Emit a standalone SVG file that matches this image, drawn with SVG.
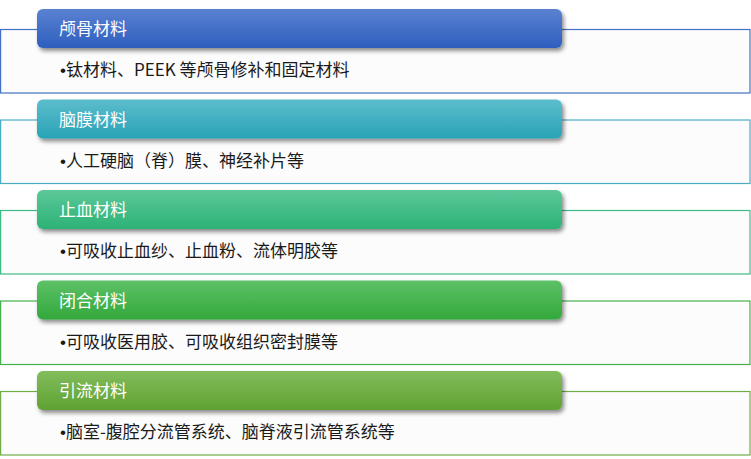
<svg xmlns="http://www.w3.org/2000/svg" width="751" height="459" viewBox="0 0 751 459">
<defs>
<linearGradient id="g1" x1="0" y1="0" x2="0" y2="1"><stop offset="0" stop-color="#5b81d1"/><stop offset="1" stop-color="#2d5fbf"/></linearGradient>
<linearGradient id="g2" x1="0" y1="0" x2="0" y2="1"><stop offset="0" stop-color="#5cbdcc"/><stop offset="1" stop-color="#29a3b7"/></linearGradient>
<linearGradient id="g3" x1="0" y1="0" x2="0" y2="1"><stop offset="0" stop-color="#5cc89a"/><stop offset="1" stop-color="#2cb276"/></linearGradient>
<linearGradient id="g4" x1="0" y1="0" x2="0" y2="1"><stop offset="0" stop-color="#5dc167"/><stop offset="1" stop-color="#33a83c"/></linearGradient>
<linearGradient id="g5" x1="0" y1="0" x2="0" y2="1"><stop offset="0" stop-color="#82bd5c"/><stop offset="1" stop-color="#5fa132"/></linearGradient>
<filter id="sh" x="-5%" y="-30%" width="110%" height="170%">
<feDropShadow dx="2" dy="3" stdDeviation="2" flood-color="#000" flood-opacity="0.45"/>
</filter>
</defs>
<style>
.box{fill:#fcfcfc;stroke-width:1.2}
.hdr{filter:url(#sh)}
.ht{font-family:"Noto Sans CJK SC","Liberation Sans",sans-serif;font-size:17px;fill:#ffffff}
.bt{font-family:"Noto Sans CJK SC","Liberation Sans",sans-serif;font-size:17px;fill:#1a1a1a}
.bl{font-family:"Liberation Sans",sans-serif}
</style>
<rect width="751" height="459" fill="#ffffff"/>
<g id="row1">
<rect class="box" x="0.6" y="29.5" width="749.4" height="63.5" stroke="#4472c4"/>
<rect class="hdr" x="37" y="9" width="525" height="39" rx="6" fill="url(#g1)"/>
<text class="ht" x="59" y="35">颅骨材料</text>
<text class="bt" x="60" y="76"><tspan class="bl">•</tspan>钛材料、PEEK 等颅骨修补和固定材料</text>
</g>
<g id="row2">
<rect class="box" x="0.6" y="120" width="749.4" height="63.5" stroke="#4bacc6"/>
<rect class="hdr" x="37" y="99.5" width="525" height="39" rx="6" fill="url(#g2)"/>
<text class="ht" x="59" y="125.5">脑膜材料</text>
<text class="bt" x="60" y="166.5"><tspan class="bl">•</tspan>人工硬脑（脊）膜、神经补片等</text>
</g>
<g id="row3">
<rect class="box" x="0.6" y="210.5" width="749.4" height="63.5" stroke="#3dbb85"/>
<rect class="hdr" x="37" y="190" width="525" height="39" rx="6" fill="url(#g3)"/>
<text class="ht" x="59" y="216">止血材料</text>
<text class="bt" x="60" y="257"><tspan class="bl">•</tspan>可吸收止血纱、止血粉、流体明胶等</text>
</g>
<g id="row4">
<rect class="box" x="0.6" y="301" width="749.4" height="63.5" stroke="#45b14d"/>
<rect class="hdr" x="37" y="280.5" width="525" height="39" rx="6" fill="url(#g4)"/>
<text class="ht" x="59" y="306.5">闭合材料</text>
<text class="bt" x="60" y="347.5"><tspan class="bl">•</tspan>可吸收医用胶、可吸收组织密封膜等</text>
</g>
<g id="row5">
<rect class="box" x="0.6" y="391.5" width="749.4" height="63.5" stroke="#70ad47"/>
<rect class="hdr" x="37" y="371" width="525" height="39" rx="6" fill="url(#g5)"/>
<text class="ht" x="59" y="397">引流材料</text>
<text class="bt" x="60" y="438"><tspan class="bl">•</tspan>脑室-腹腔分流管系统、脑脊液引流管系统等</text>
</g>
<g id="connectors"/>
</svg>
